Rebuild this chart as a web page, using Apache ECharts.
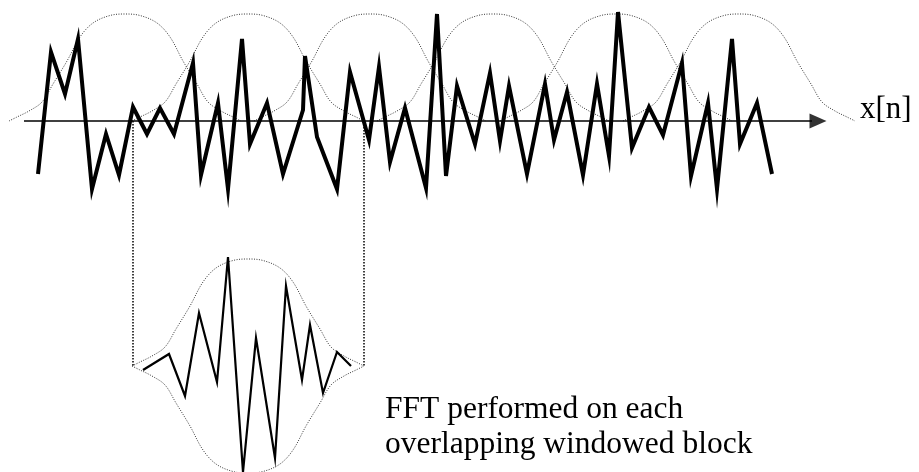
<!DOCTYPE html>
<html>
<head>
<meta charset="utf-8">
<script src="https://cdn.jsdelivr.net/npm/echarts@6/dist/echarts.min.js"></script>
<style>
html,body{margin:0;padding:0;background:#fff;}
#chart{width:919px;height:472px;}
</style>
</head>
<body>
<div id="chart"></div>
<script>
// Input signal x[n]: sample positions and amplitudes (axis = 0, up positive)
var signalX = [38,51,65,78,92,106,119,133,147,160,174,193,201,218,228,242,250,267,283,303,305,317,337,350,369,379,390,405,426,437,446,457,475,490,500,509,527,545,554,567,583,597,609,618,632,649,663,682,691,708,717,732,740,757,772];
var signalY = [-53,69,27,82,-68,-13,-54,14,-13,13,-13,58,-54,18,-68,82,-23,18,-53,11,65,-16,-68,49,-19,54,-41,13,-67,107,-55,35,-23,48,-20,35,-53,37,-19,29,-54,37,-35,109,-27,14,-14,58,-55,18,-68,82,-23,18,-53];

// Window shape: offset from centre -> height
var winOffset = [0,15,32,45,58,72,83,96,108,116];
var winHeight = [107,105.5,98,84,60,37,19,10,4,0];
// Overlapping window centres
var winCentres = [125,248,370,493,616,739];

// Windowed block (bottom), amplitudes relative to block baseline
var blockX = [143,169,185,199,217,228,243,256,275,286,302,310,323,337,351];
var blockY = [-4,12,-30,53,-16,109,-106,28,-92,80,-14,41,-27,14,0];
var blockCentre = 248;
var blockBase = -245;
var blockEdges = [133,364];

// Axis
var axisStart = 24, axisEnd = 812, arrowX = 818;

function windowCurve(c, base, sign){
  var pts = [];
  for (var i = winOffset.length - 1; i >= 0; i--) pts.push([c - winOffset[i], base + sign*winHeight[i]]);
  for (var j = 1; j < winOffset.length; j++) pts.push([c + winOffset[j], base + sign*winHeight[j]]);
  return pts;
}

var series = [];
var dotted = {color:'#333', width:1, type:[1,1.5]};
winCentres.forEach(function(c){
  series.push({type:'line', data:windowCurve(c,0,1), smooth:0.35, symbol:'none', lineStyle:dotted, z:1, silent:true});
});
// axis line
series.push({type:'line', data:[[axisStart,0],[axisEnd,0]], symbol:'none', lineStyle:{color:'#000',width:1.5}, z:2});
series.push({type:'scatter', data:[[arrowX,0]], symbol:'triangle', symbolSize:[15,17], symbolRotate:-90, itemStyle:{color:'#000'}, z:3});
// signal
series.push({type:'line', data:signalX.map(function(x,i){return [x,signalY[i]];}), symbol:'none', lineStyle:{color:'#000',width:4,join:'miter'}, z:4});
// connector lines
blockEdges.forEach(function(x){
  series.push({type:'line', data:[[x,0],[x,blockBase]], symbol:'none', lineStyle:{color:'#000',width:1.5,type:[1.5,1.5]}, z:1});
});
// block envelopes
series.push({type:'line', data:windowCurve(blockCentre,blockBase,1), smooth:0.35, symbol:'none', lineStyle:dotted, z:1});
series.push({type:'line', data:windowCurve(blockCentre,blockBase,-1), smooth:0.35, symbol:'none', lineStyle:dotted, z:1});
// windowed block signal
series.push({type:'line', data:blockX.map(function(x,i){return [x,blockBase+blockY[i]];}), symbol:'none', lineStyle:{color:'#000',width:2.2,join:'miter'}, z:4});

var chart = echarts.init(document.getElementById('chart'), null, {renderer:'canvas'});
chart.setOption({
  animation:false,
  backgroundColor:'#fff',
  grid:{left:0,right:0,top:0,bottom:0},
  xAxis:{type:'value',min:0,max:919,show:false},
  yAxis:{type:'value',min:-351,max:121,show:false},
  graphic:[
    {type:'text', left:860, top:94, style:{text:'x[n]', font:'31px "Liberation Serif", "Times New Roman", serif', fill:'#000'}},
    {type:'text', left:385, top:392, style:{text:'FFT performed on each\noverlapping windowed block', font:'31.5px "Liberation Serif", "Times New Roman", serif', lineHeight:35, fill:'#000'}}
  ],
  series:series
});
</script>
</body>
</html>
